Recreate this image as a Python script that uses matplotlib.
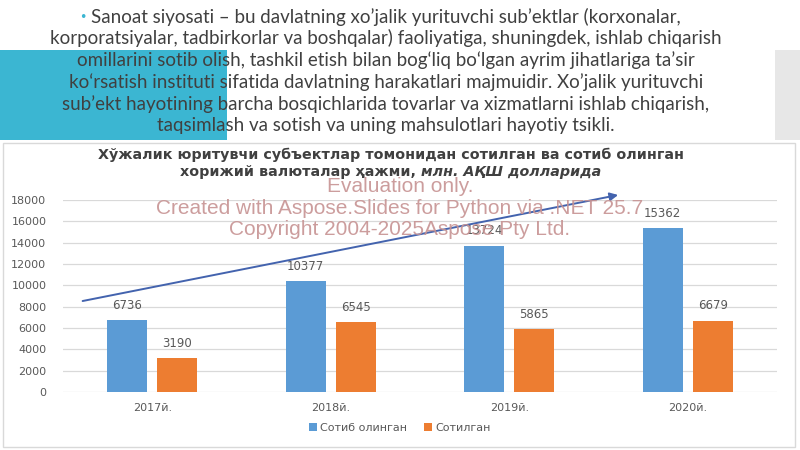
import matplotlib
matplotlib.use("Agg")
import matplotlib.pyplot as plt
from matplotlib.patches import Rectangle, Patch
import numpy as np

# ---- data ----
categories = ["2017й.", "2018й.", "2019й.", "2020й."]
bought = [6736, 10377, 13724, 15362]   # Сотиб олинган
sold = [3190, 6545, 5865, 6679]        # Сотилган
series_names = ["Сотиб олинган", "Сотилган"]
y_ticks = [0, 2000, 4000, 6000, 8000, 10000, 12000, 14000, 16000, 18000]
trend_start = (-0.39, 8530)
trend_end = (2.61, 18470)

title_line1 = "Хўжалик юритувчи субъектлар томонидан сотилган ва сотиб олинган"
title_line2a = "хорижий валюталар ҳажми, "
title_line2b = "млн. АҚШ долларида"

body_lines = [
    "Sanoat siyosati – bu davlatning xo’jalik yurituvchi sub’ektlar (korxonalar,",
    "korporatsiyalar, tadbirkorlar va boshqalar) faoliyatiga, shuningdek, ishlab chiqarish",
    "omillarini sotib olish, tashkil etish bilan bog‘liq bo‘lgan ayrim jihatlariga ta’sir",
    "ko‘rsatish instituti sifatida davlatning harakatlari majmuidir. Xo’jalik yurituvchi",
    "sub’ekt hayotining barcha bosqichlarida tovarlar va xizmatlarni ishlab chiqarish,",
    "taqsimlash va sotish va uning mahsulotlari hayotiy tsikli.",
]
watermark = [
    "Evaluation only.",
    "Created with Aspose.Slides for Python via .NET 25.7",
    "Copyright 2004-2025Aspose Pty Ltd.",
]

BLUE = "#5B9BD5"
ORANGE = "#ED7D31"
GRAY_TXT = "#595959"
W, H = 800, 450

fig = plt.figure(figsize=(8, 4.5), dpi=100)
fig.patch.set_facecolor("white")

def fx(px):
    return px / W

def fy(py):
    return 1 - py / H

# slide decorations
fig.patches.append(Rectangle((0, fy(140)), fx(227), (140 - 50) / H,
                             transform=fig.transFigure, facecolor="#3BB6D2",
                             edgecolor="none", zorder=-5))
fig.patches.append(Rectangle((fx(775), fy(140)), fx(25), (140 - 50) / H,
                             transform=fig.transFigure, facecolor="#E7E7E7",
                             edgecolor="none", zorder=-5))
# chart area border
fig.patches.append(Rectangle((fx(3), fy(447)), fx(792), (447 - 143) / H,
                             transform=fig.transFigure, facecolor="white",
                             edgecolor="#D9D9D9", lw=1.0, zorder=-4))

# body text
body_y = [17, 38, 60, 82, 104, 126]
for line, yy in zip(body_lines, body_y):
    fig.text(fx(386), fy(yy), line, ha="center", va="center",
             fontsize=13.5, family="Lato", color="#404040", zorder=5)
fig.canvas.draw()
r = fig.canvas.get_renderer()
first = fig.texts[0]
bb = first.get_window_extent(r)
fig.text(bb.x0 / W - fx(8), fy(17), "•", ha="center", va="center",
         fontsize=9, color="#3BB6D2", family="DejaVu Sans")

# axes
ax = fig.add_axes([fx(63), fy(392), fx(777 - 63), (392 - 200) / H])
ax.set_facecolor("none")
ax.set_zorder(2)
x = np.arange(len(categories))
bw = 0.224
off = 0.14
b1 = ax.bar(x - off, bought, bw, color=BLUE, zorder=3)
b2 = ax.bar(x + off, sold, bw, color=ORANGE, zorder=3)
for bars, vals in ((b1, bought), (b2, sold)):
    for rect, v in zip(bars, vals):
        ax.annotate(f"{v}", (rect.get_x() + rect.get_width() / 2, v),
                    xytext=(0, 6), textcoords="offset points",
                    ha="center", va="bottom", fontsize=8.5, color=GRAY_TXT,
                    zorder=4)
ax.set_xlim(-0.5, len(categories) - 0.5)
ax.set_ylim(0, 18000)
ax.set_yticks(y_ticks)
ax.set_yticklabels([str(v) for v in y_ticks])
ax.set_xticks(x)
ax.set_xticklabels(categories)
ax.tick_params(axis="y", length=0, pad=12, labelsize=8, labelcolor=GRAY_TXT)
ax.tick_params(axis="x", length=0, pad=8, labelsize=8, labelcolor=GRAY_TXT)
ax.grid(axis="y", color="#D9D9D9", lw=0.9, zorder=0)
ax.set_axisbelow(True)
for s in ax.spines.values():
    s.set_visible(False)

# trend arrow
ax.annotate("", xy=trend_end, xytext=trend_start,
            arrowprops=dict(arrowstyle="-|>", color="#4363AE", lw=1.4,
                            mutation_scale=12, shrinkA=0, shrinkB=0),
            annotation_clip=False, zorder=6)

# title
tf = dict(fontsize=10.25, fontweight="bold", color="#404040", family="DejaVu Sans")
fig.text(fx(391), fy(155), title_line1, ha="center", va="center", **tf)
ta = fig.text(0, fy(172), title_line2a, ha="left", va="center", **tf)
tb = fig.text(0, fy(172), title_line2b, ha="left", va="center",
              style="italic", **tf)
fig.canvas.draw()
wa = ta.get_window_extent(r).width
wb = tb.get_window_extent(r).width
start = 391 - (wa + wb) / 2
ta.set_x(fx(start))
tb.set_x(fx(start + wa))

# legend
handles = [Patch(facecolor=BLUE), Patch(facecolor=ORANGE)]
fig.legend(handles, series_names, loc="center", bbox_to_anchor=(fx(400), fy(428)),
           ncol=2, frameon=False, fontsize=8, labelcolor=GRAY_TXT,
           handlelength=0.7, handleheight=0.7, handletextpad=0.3, columnspacing=1.5)

# watermark
wm_y = [187, 208, 230]
for line, yy in zip(watermark, wm_y):
    fig.text(fx(400), fy(yy), line, ha="center", va="center", fontsize=15,
             family="Liberation Sans", color="#C79393", alpha=0.9, zorder=10)

fig.savefig("out.png", dpi=100)
